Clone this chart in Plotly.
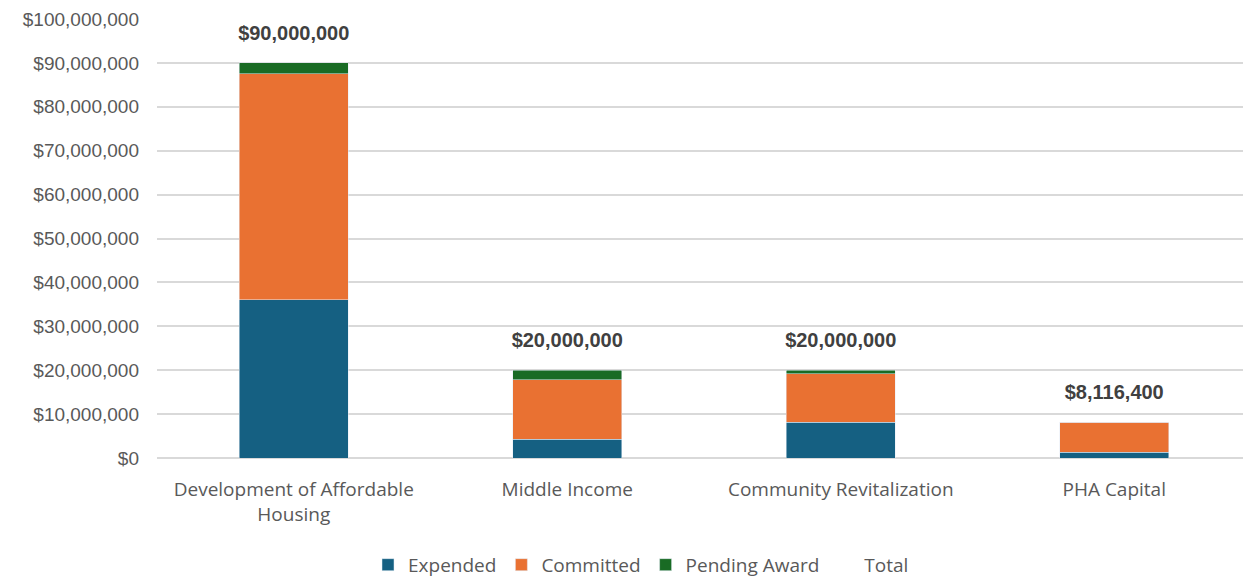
import plotly.graph_objects as go

categories = ["Development of Affordable<br>Housing", "Middle Income", "Community Revitalization", "PHA Capital"]
expended = [36_000_000, 4_300_000, 8_100_000, 1_300_000]
committed = [51_500_000, 13_500_000, 11_100_000, 6_816_400]
pending = [2_500_000, 2_200_000, 800_000, 0]
totals = [90_000_000, 20_000_000, 20_000_000, 8_116_400]
total_labels = ["$90,000,000", "$20,000,000", "$20,000,000", "$8,116,400"]

fig = go.Figure()
fig.add_trace(go.Bar(name="Expended", x=categories, y=expended, marker_color="#156082"))
fig.add_trace(go.Bar(name="Committed", x=categories, y=committed, marker_color="#E97132"))
fig.add_trace(go.Bar(name="Pending Award", x=categories, y=pending, marker_color="#196B24"))
fig.add_trace(go.Scatter(
    name="Total", x=categories, y=totals, mode="markers+text",
    text=total_labels, textposition="top center",
    textfont=dict(family="Liberation Sans, Arial", size=20, color="#404040", weight="bold"),
    marker=dict(size=27, color="rgba(0,0,0,0)"), hoverinfo="skip",
))

fig.update_layout(
    barmode="stack", bargap=0.6,
    width=1251, height=577,
    margin=dict(l=149, r=8, t=11, b=127, autoexpand=False),
    plot_bgcolor="white", paper_bgcolor="white",
    font=dict(family="Open Sans, Liberation Sans", color="#595959"),
    legend=dict(orientation="h", xref="container", yref="container",
                x=0.506, xanchor="center", y=0.035, yanchor="middle",
                font=dict(family="Open Sans", size=19, color="#595959"), itemwidth=30,
                traceorder="normal"),
    showlegend=True,
)
fig.update_yaxes(range=[0, 100_000_000], dtick=10_000_000, tickprefix="$", tickformat=",",
                 showgrid=True, gridcolor="#d9d9d9", gridwidth=2, zeroline=True,
                 zerolinecolor="#d9d9d9", zerolinewidth=2, automargin=False,
                 tickfont=dict(family="Liberation Sans, Arial", size=19, color="#595959"),
                 ticks="", ticklabelstandoff=17)
fig.update_xaxes(showline=False, ticklabelstandoff=18, automargin=False,
                 tickfont=dict(family="Open Sans, Liberation Sans", size=19, color="#595959"))

fig.write_html("out.html")
